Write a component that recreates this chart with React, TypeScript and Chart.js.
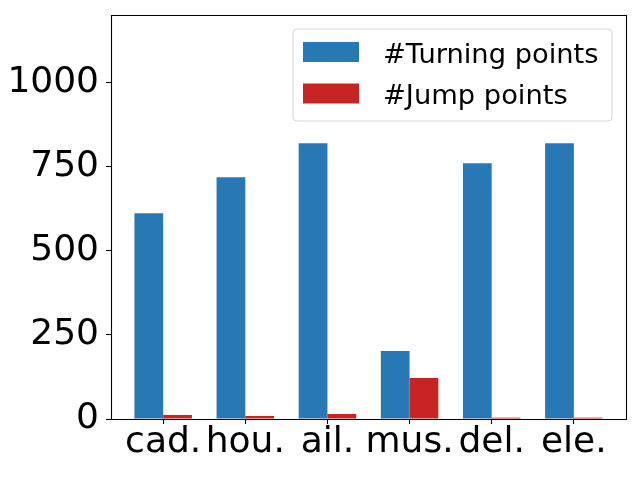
import React, { useEffect, useRef } from "react";
import { Chart, registerables } from "chart.js";

Chart.register(...registerables);

const categories = ["cad.", "hou.", "ail.", "mus.", "del.", "ele."];
const turningPoints = [611, 718, 819, 202, 760, 819];
const jumpPoints = [12, 9, 15, 122, 4, 4];
const yTicks = [0, 250, 500, 750, 1000];
const seriesLabels = ["#Turning points", "#Jump points"];
const seriesColors = ["#2878b5", "#c82423"];

const FONT = "'DejaVu Sans', sans-serif";

const framePlugin = {
  id: "frame",
  afterDatasetsDraw(chart: any) {
    const { ctx, chartArea } = chart;
    const { left, right, top, bottom } = chartArea;
    ctx.save();
    ctx.strokeStyle = "#000";
    ctx.lineWidth = 1.1;
    ctx.beginPath();
    ctx.moveTo(left + 0.5, top + 0.5);
    ctx.lineTo(right + 0.5, top + 0.5);
    ctx.lineTo(right + 0.5, bottom + 0.5);
    ctx.lineTo(left + 0.5, bottom + 0.5);
    ctx.closePath();
    ctx.stroke();
    ctx.restore();
  },
};

const legendPlugin = {
  id: "boxLegend",
  afterDraw(chart: any) {
    const { ctx } = chart;
    const x0 = 293, y0 = 29, w = 319, h = 92, r = 4;
    ctx.save();
    ctx.beginPath();
    ctx.moveTo(x0 + r, y0);
    ctx.lineTo(x0 + w - r, y0);
    ctx.quadraticCurveTo(x0 + w, y0, x0 + w, y0 + r);
    ctx.lineTo(x0 + w, y0 + h - r);
    ctx.quadraticCurveTo(x0 + w, y0 + h, x0 + w - r, y0 + h);
    ctx.lineTo(x0 + r, y0 + h);
    ctx.quadraticCurveTo(x0, y0 + h, x0, y0 + h - r);
    ctx.lineTo(x0, y0 + r);
    ctx.quadraticCurveTo(x0, y0, x0 + r, y0);
    ctx.closePath();
    ctx.fillStyle = "rgba(255,255,255,0.8)";
    ctx.fill();
    ctx.strokeStyle = "#d6d6d6";
    ctx.lineWidth = 1;
    ctx.stroke();
    ctx.font = `27.3px ${FONT}`;
    ctx.textBaseline = "alphabetic";
    ctx.textAlign = "left";
    chart.data.datasets.forEach((ds: any, i: number) => {
      const py = 42 + i * 41.5;
      ctx.fillStyle = ds.backgroundColor;
      ctx.fillRect(303, py, 56, 20);
      ctx.fillStyle = "#000";
      ctx.fillText(ds.label, 383, py + 20.7);
    });
    ctx.restore();
  },
};

export default function App() {
  const canvasRef = useRef<HTMLCanvasElement | null>(null);

  useEffect(() => {
    const canvas = canvasRef.current;
    if (!canvas) return;
    const chart = new Chart(canvas, {
      type: "bar",
      data: {
        datasets: [
          {
            label: seriesLabels[0],
            data: turningPoints.map((v, i) => ({ x: i, y: v })),
            backgroundColor: seriesColors[0],
            borderWidth: 0,
          },
          {
            label: seriesLabels[1],
            data: jumpPoints.map((v, i) => ({ x: i, y: v })),
            backgroundColor: seriesColors[1],
            borderWidth: 0,
          },
        ],
      },
      options: {
        responsive: false,
        animation: false,
        events: [],
        datasets: {
          bar: { categoryPercentage: 0.7, barPercentage: 1.0 },
        },
        layout: { padding: { top: 15, right: 14, left: 0, bottom: 0 } },
        plugins: {
          legend: { display: false },
          tooltip: { enabled: false },
          title: { display: false },
        },
        scales: {
          x: {
            type: "linear",
            offset: false,
            min: -0.635,
            max: categories.length - 1 + 0.635,
            afterBuildTicks: (scale: any) => {
              scale.ticks = categories.map((_, i) => ({ value: i }));
            },
            afterFit: (scale: any) => {
              scale.height = 61;
              scale.paddingLeft = 0;
              scale.paddingRight = 0;
            },
            grid: {
              display: true,
              offset: false,
              drawOnChartArea: false,
              drawTicks: true,
              tickLength: 5,
              tickColor: "#000",
              tickWidth: 1.1,
            },
            border: { display: false },
            ticks: {
              autoSkip: false,
              maxRotation: 0,
              padding: 1,
              color: "#000",
              font: { family: FONT, size: 36, lineHeight: 1 },
              callback: (v: any) => categories[Math.round(Number(v))] ?? "",
            },
          },
          y: {
            type: "linear",
            min: 0,
            max: 1200,
            afterBuildTicks: (scale: any) => {
              scale.ticks = yTicks.map((v) => ({ value: v }));
            },
            afterFit: (scale: any) => {
              scale.width = 111;
              scale.paddingTop = 0;
              scale.paddingBottom = 0;
            },
            grid: {
              display: true,
              drawOnChartArea: false,
              drawTicks: true,
              tickLength: 5,
              tickColor: "#000",
              tickWidth: 1.1,
            },
            border: { display: false },
            ticks: {
              padding: 7,
              color: "#000",
              font: { family: FONT, size: 36 },
              callback: (v: any) => String(v),
            },
          },
        },
      },
      plugins: [framePlugin, legendPlugin],
    } as any);
    return () => chart.destroy();
  }, []);

  return (
    <div style={{ position: "absolute", left: 0, top: 0, width: 640, height: 480, background: "#fff" }}>
      <canvas ref={canvasRef} width={640} height={480} style={{ display: "block" }} />
    </div>
  );
}
